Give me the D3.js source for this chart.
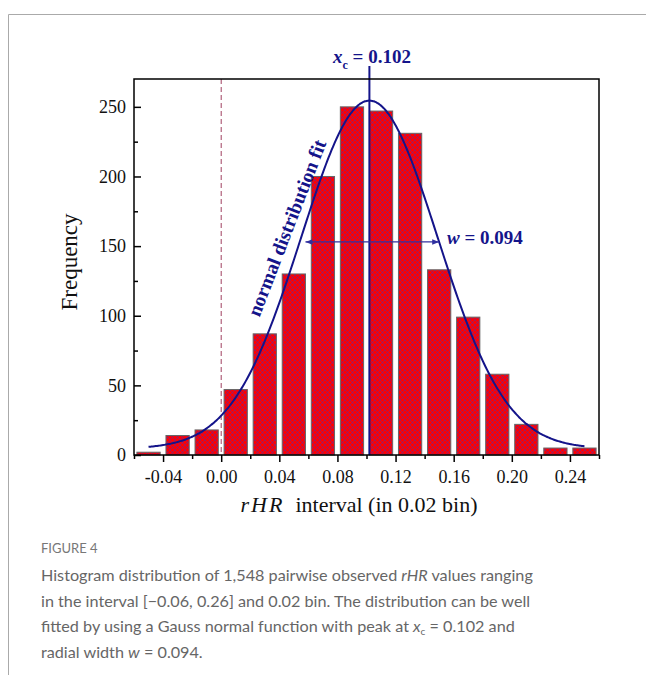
<!DOCTYPE html>
<html>
<head>
<meta charset="utf-8">
<script src="https://cdn.jsdelivr.net/npm/d3@7"></script>
<style>
  body { margin: 0; background: #fff; }
  svg { display: block; }
</style>
</head>
<body>
<svg id="chart" width="646" height="675"></svg>
<script>
// bin centres (0.02 bins from -0.06 to 0.26) and counts
const binCenters = [-0.05, -0.03, -0.01, 0.01, 0.03, 0.05, 0.07, 0.09,
                    0.11, 0.13, 0.15, 0.17, 0.19, 0.21, 0.23, 0.25];
const counts = [2, 14, 18, 47, 87, 130, 200, 250, 247, 231, 133, 99, 58, 22, 5, 5];
const xTicks = [-0.04, 0.00, 0.04, 0.08, 0.12, 0.16, 0.20, 0.24];
const xMinorTicks = [-0.06, -0.02, 0.02, 0.06, 0.10, 0.14, 0.18, 0.22, 0.26];
const yTicks = [0, 50, 100, 150, 200, 250];
const yMinorTicks = [25, 75, 125, 175, 225];

// Gauss fit parameters (xc and w as printed on the chart)
const fitXc = 0.102;
const fitW = 0.094;
const fitA = 250;
const fitY0 = 4.5;
const fitRange = [-0.05, 0.25];
const arrowSpan = [0.058, 0.150];
const arrowLevel = 153;

const captionLines = [
  ['Histogram distribution of 1,548 pairwise observed ', {i: 'rHR'}, ' values ranging'],
  ['in the interval [\u22120.06, 0.26] and 0.02 bin. The distribution can be well'],
  ['fitted by using a Gauss normal function with peak at ', {i: 'x'}, {sub: 'c'}, ' = 0.102 and'],
  ['radial width ', {i: 'w'}, ' = 0.094.']
];

const navy = '#14148a';
const serif = '"Liberation Serif", "Times New Roman", serif';
const sans = 'Lato, "Open Sans", sans-serif';

const svg = d3.select('#chart');

// page frame
svg.append('line').attr('x1', 8.5).attr('y1', 14.5).attr('x2', 646).attr('y2', 14.5)
   .attr('stroke', '#aaa').attr('stroke-width', 1);
svg.append('line').attr('x1', 8.5).attr('y1', 14.5).attr('x2', 8.5).attr('y2', 675)
   .attr('stroke', '#aaa').attr('stroke-width', 1);

const x = d3.scaleLinear().domain([-0.06, 0.26]).range([134, 599]);
const y = d3.scaleLinear().domain([0, 270]).range([455, 79]);

// crosshatch pattern
const defs = svg.append('defs');
const cell = 5;
const pat = defs.append('pattern')
   .attr('id', 'hatch')
   .attr('patternUnits', 'userSpaceOnUse')
   .attr('width', cell).attr('height', cell);
pat.append('rect').attr('width', cell).attr('height', cell).attr('fill', '#ff0000');
pat.append('path').attr('d', `M0,0 L${cell},${cell} M${cell},0 L0,${cell}`)
   .attr('stroke', '#3535c8').attr('stroke-width', 0.45).attr('fill', 'none');

// dashed zero line
svg.append('line')
   .attr('x1', x(0)).attr('x2', x(0))
   .attr('y1', y.range()[1]).attr('y2', y.range()[0])
   .attr('stroke', '#a04060').attr('stroke-width', 1)
   .attr('stroke-dasharray', '5,3');

// bars
const halfBar = 0.008;
svg.selectAll('.bar')
   .data(binCenters.map((c, i) => ({c: c, v: counts[i]})))
   .enter()
   .append('rect')
   .attr('class', 'bar')
   .attr('x', d => x(d.c - halfBar))
   .attr('width', d => x(d.c + halfBar) - x(d.c - halfBar))
   .attr('y', d => y(d.v))
   .attr('height', d => y(0) - y(d.v))
   .attr('fill', 'url(#hatch)')
   .attr('stroke', '#666')
   .attr('stroke-width', 1);

// fit curve
const gauss = v => fitY0 + fitA * Math.exp(-2 * (v - fitXc) * (v - fitXc) / (fitW * fitW));
const curvePts = d3.range(fitRange[0], fitRange[1] + 0.0005, 0.001);
svg.append('path')
   .attr('d', d3.line().x(d => x(d)).y(d => y(gauss(d))).curve(d3.curveBasis)(curvePts))
   .attr('fill', 'none')
   .attr('stroke', navy)
   .attr('stroke-width', 2);

// xc line
svg.append('line')
   .attr('x1', x(fitXc)).attr('x2', x(fitXc))
   .attr('y1', 66).attr('y2', y(0))
   .attr('stroke', navy).attr('stroke-width', 2);

// width arrow
const arrowColor = '#3030a0';
defs.append('marker')
   .attr('id', 'arrowhead')
   .attr('viewBox', '0 0 10 10')
   .attr('refX', 10).attr('refY', 5)
   .attr('markerWidth', 9).attr('markerHeight', 7)
   .attr('markerUnits', 'userSpaceOnUse')
   .attr('orient', 'auto-start-reverse')
   .append('path').attr('d', 'M0,1 L10,5 L0,9 Z').attr('fill', arrowColor);
svg.append('line')
   .attr('x1', x(arrowSpan[0])).attr('x2', x(arrowSpan[1]))
   .attr('y1', y(arrowLevel)).attr('y2', y(arrowLevel))
   .attr('stroke', arrowColor).attr('stroke-width', 1.2)
   .attr('marker-start', 'url(#arrowhead)')
   .attr('marker-end', 'url(#arrowhead)');

// axes box
svg.append('rect')
   .attr('x', x.range()[0]).attr('y', y.range()[1])
   .attr('width', x.range()[1] - x.range()[0])
   .attr('height', y.range()[0] - y.range()[1])
   .attr('fill', 'none').attr('stroke', '#000').attr('stroke-width', 1.5);

// x axis ticks (outward)
const xAxis = svg.append('g').attr('transform', `translate(0,${y(0)})`);
xAxis.append('g').attr('class', 'major')
   .call(d3.axisBottom(x).tickValues(xTicks).tickSize(7)
          .tickFormat(d => d3.format('.2f')(d).replace('\u2212', '-')));
xAxis.append('g').attr('class', 'minor')
   .call(d3.axisBottom(x).tickValues(xMinorTicks).tickSize(4).tickFormat(''));
xAxis.selectAll('.domain').remove();
xAxis.selectAll('line').attr('stroke', '#000').attr('stroke-width', 1.5);
xAxis.selectAll('.major text')
   .attr('font-family', serif).attr('font-size', 18).attr('fill', '#111')
   .attr('y', 15).attr('dy', '0.71em');

// y axis ticks (inward)
const yAxis = svg.append('g').attr('transform', `translate(${x.range()[0]},0)`);
yAxis.append('g').attr('class', 'major')
   .call(d3.axisLeft(y).tickValues(yTicks).tickSize(-7));
yAxis.append('g').attr('class', 'minor')
   .call(d3.axisLeft(y).tickValues(yMinorTicks).tickSize(-4).tickFormat(''));
yAxis.selectAll('.domain').remove();
yAxis.selectAll('line').attr('stroke', '#000').attr('stroke-width', 1.5);
yAxis.selectAll('.major text')
   .attr('font-family', serif).attr('font-size', 18).attr('fill', '#111')
   .attr('x', -8);

// axis titles
svg.append('text')
   .attr('transform', 'translate(77,262) rotate(-90)')
   .attr('text-anchor', 'middle')
   .attr('font-family', serif).attr('font-size', 23).attr('fill', '#111')
   .text('Frequency');

const xt = svg.append('text')
   .attr('x', 359).attr('y', 512)
   .attr('text-anchor', 'middle')
   .attr('font-family', serif).attr('font-size', 22).attr('fill', '#111')
   .attr('xml:space', 'preserve');
xt.append('tspan').attr('font-style', 'italic').attr('letter-spacing', 2).text('rHR');
xt.append('tspan').text('  interval (in 0.02 bin)');

// annotations
const xcLabel = svg.append('text')
   .attr('x', 333).attr('y', 63)
   .attr('font-family', serif).attr('font-size', 19).attr('font-weight', 'bold')
   .attr('fill', navy);
xcLabel.append('tspan').attr('font-style', 'italic').text('x');
xcLabel.append('tspan').attr('font-size', 12).attr('dy', 6).text('c');
xcLabel.append('tspan').attr('dy', -6).text(' = 0.102');

const wLabel = svg.append('text')
   .attr('x', 447).attr('y', 244)
   .attr('font-family', serif).attr('font-size', 19).attr('font-weight', 'bold')
   .attr('fill', navy);
wLabel.append('tspan').attr('font-style', 'italic').text('w');
wLabel.append('tspan').text(' = 0.094');

svg.append('text')
   .attr('transform', 'translate(287,228) rotate(-69)')
   .attr('text-anchor', 'middle')
   .attr('dominant-baseline', 'central')
   .attr('font-family', serif).attr('font-size', 19.5).attr('font-weight', 'bold')
   .attr('fill', navy)
   .text('normal distribution fit');

// caption
svg.append('text')
   .attr('x', 41).attr('y', 553)
   .attr('font-family', sans).attr('font-size', 13).attr('fill', '#777')
   .text('FIGURE 4');
captionLines.forEach((parts, i) => {
  const t = svg.append('text')
     .attr('x', 41).attr('y', 581 + i * 25.7)
     .attr('font-family', sans).attr('font-size', 16.2).attr('fill', '#666');
  let shift = 0;
  parts.forEach(p => {
    if (typeof p === 'string') {
      t.append('tspan').attr('dy', -shift).text(p);
      shift = 0;
    } else if (p.i) {
      t.append('tspan').attr('dy', -shift).attr('font-style', 'italic').text(p.i);
      shift = 0;
    } else if (p.sub) {
      t.append('tspan').attr('font-size', 10).attr('dy', 3).text(p.sub);
      shift = 3;
    }
  });
});
</script>
</body>
</html>
